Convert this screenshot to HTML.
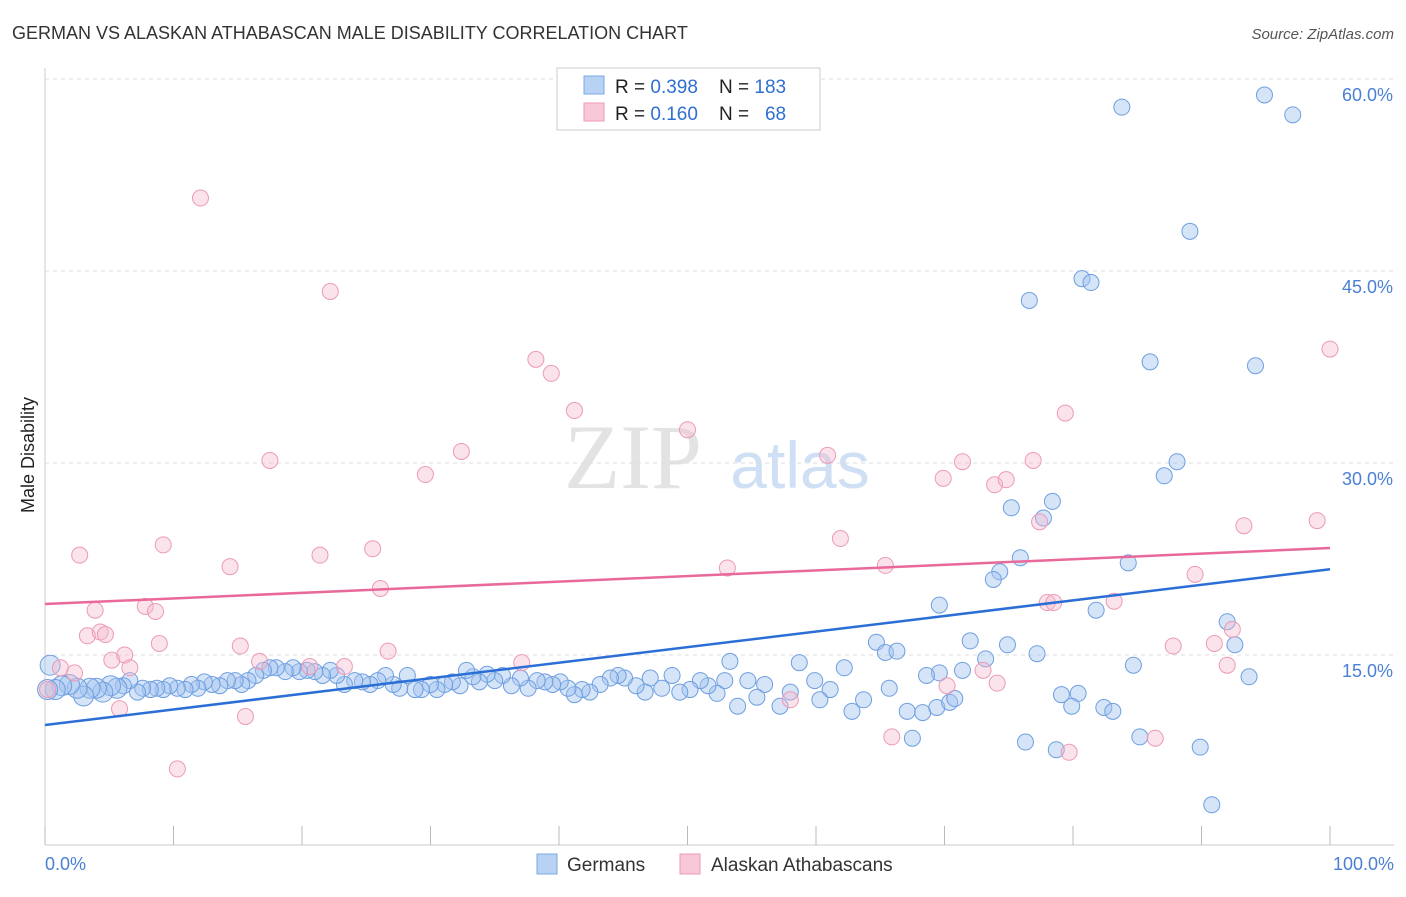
<!DOCTYPE html>
<html><head><meta charset="utf-8"><style>
body{margin:0;background:#fff;font-family:"Liberation Sans",sans-serif;}
</style></head><body>
<svg width="1406" height="892" xmlns="http://www.w3.org/2000/svg" id="chart">
<text x="12" y="39" font-size="18" fill="#333">GERMAN VS ALASKAN ATHABASCAN MALE DISABILITY CORRELATION CHART</text>
<text x="1394" y="39" font-size="15" fill="#555" font-style="italic" text-anchor="end">Source: ZipAtlas.com</text>
<text x="633" y="488" font-size="92" fill="#e3e3e3" font-family="Liberation Serif,serif" text-anchor="middle">ZIP</text>
<text x="800" y="488" font-size="66" fill="#cfe0f5" text-anchor="middle">atlas</text>
<text transform="translate(34,455) rotate(-90)" font-size="18" fill="#222" text-anchor="middle">Male Disability</text>
<g id="grid"></g><g id="pts"></g><g id="lines"></g>
<rect x="557" y="68" width="263" height="62" fill="#fff" stroke="#ccc"/>
<rect x="584" y="76" width="20" height="18" fill="#b8d2f4" stroke="#7aa8e6"/>
<rect x="584" y="103" width="20" height="18" fill="#f9c8d8" stroke="#ee9ab6"/>
<text x="615" y="93" font-size="19" fill="#222">R = <tspan fill="#2f6fd0">0.398</tspan>&#160;&#160;&#160;&#160;N = <tspan fill="#2f6fd0">183</tspan></text>
<text x="615" y="120" font-size="19" fill="#222">R = <tspan fill="#2f6fd0">0.160</tspan>&#160;&#160;&#160;&#160;N = &#160;&#160;<tspan fill="#2f6fd0">68</tspan></text>
<rect x="537" y="854" width="20" height="20" fill="#b8d2f4" stroke="#7aa8e6"/>
<text x="567" y="871" font-size="19" fill="#333">Germans</text>
<rect x="680" y="854" width="20" height="20" fill="#f9c8d8" stroke="#ee9ab6"/>
<text x="711" y="871" font-size="19" fill="#333">Alaskan Athabascans</text>
<text x="45" y="870" font-size="18" fill="#4a7fd4">0.0%</text>
<text x="1394" y="870" font-size="18" fill="#4a7fd4" text-anchor="end">100.0%</text>
</svg>
<script>
const yTicks=[15,30,45,60];
const yTickLabels=["15.0%","30.0%","45.0%","60.0%"];
const xTicks=[0,10,20,30,40,50,60,70,80,90,100];
const germans=[[83.8,57.8],[94.9,58.75],[97.1,57.2],[89.1,48.1],[80.7,44.4],[81.4,44.1],[76.6,42.7],[86.0,37.9],[94.2,37.6],[88.1,30.1],[87.1,29.0],[78.4,27.0],[77.7,25.7],[75.2,26.5],[75.9,22.6],[74.3,21.5],[73.8,20.9],[84.3,22.2],[69.6,18.9],[81.8,18.5],[92.0,17.6],[92.6,15.8],[72.0,16.1],[74.9,15.8],[77.2,15.1],[73.2,14.7],[64.7,16.0],[65.4,15.2],[66.3,15.3],[84.7,14.2],[93.7,13.3],[71.4,13.8],[69.6,13.6],[68.6,13.4],[79.1,11.9],[80.4,12.0],[79.9,11.0],[82.4,10.9],[83.1,10.6],[85.2,8.6],[76.3,8.2],[78.7,7.6],[89.9,7.8],[90.8,3.3],[67.5,8.5],[67.1,10.6],[68.3,10.5],[69.4,10.9],[70.4,11.3],[70.8,11.6],[62.8,10.6],[63.7,11.5],[65.7,12.4],[62.2,14.0],[61.1,12.3],[60.3,11.5],[59.9,13.0],[58.7,14.4],[58.0,12.1],[57.2,11.0],[56.0,12.7],[55.4,11.7],[54.7,13.0],[53.9,11.0],[53.3,14.5],[52.9,13.0],[52.3,12.0],[51.6,12.6],[51.0,13.0],[50.2,12.3],[49.4,12.1],[48.8,13.4],[48.0,12.4],[47.1,13.2],[46.7,12.1],[46.0,12.6],[45.1,13.2],[44.6,13.4],[44.0,13.2],[43.2,12.7],[42.4,12.1],[41.8,12.3],[41.2,11.9],[40.7,12.4],[40.1,12.9],[39.5,12.7],[38.9,12.9],[38.3,13.0],[37.6,12.4],[37.0,13.2],[36.3,12.6],[35.6,13.4],[35.0,13.0],[34.4,13.5],[33.8,12.9],[33.3,13.3],[32.8,13.8],[32.3,12.6],[31.7,12.9],[31.1,12.7],[30.5,12.3],[30.0,12.7],[29.3,12.3],[28.8,12.3],[28.2,13.4],[27.6,12.4],[27.1,12.7],[26.5,13.4],[25.9,13.0],[25.3,12.7],[24.7,12.9],[24.1,13.0],[23.3,12.7],[22.7,13.4],[22.2,13.8],[21.6,13.4],[21.0,13.7],[20.4,13.8],[19.8,13.7],[19.3,14.0],[18.7,13.7],[18.0,14.0],[17.5,14.0],[17.0,13.8],[16.4,13.4],[15.8,13.0],[15.3,12.7],[14.8,13.0],[14.2,13.0],[13.6,12.6],[13.0,12.7],[12.4,12.9],[11.9,12.4],[11.4,12.7],[10.9,12.3],[10.3,12.4],[9.7,12.6],[9.2,12.3],[8.7,12.4],[8.2,12.3],[7.6,12.4],[7.2,12.1],[6.6,13.0],[6.1,12.6],[5.6,12.4],[5.1,12.6],[4.5,12.1],[4.0,12.4],[3.5,12.4],[3.0,11.8],[2.5,12.4],[1.9,12.7],[1.3,12.6],[0.8,12.3],[0.4,14.2],[0.2,12.3]];
const athabascans=[[0.2,12.3],[1.2,14.0],[2.3,13.6],[2.7,22.8],[3.9,18.5],[3.3,16.5],[4.3,16.8],[4.7,16.6],[5.2,14.6],[5.8,10.8],[6.2,15.0],[6.6,14.0],[7.8,18.8],[8.6,18.4],[8.9,15.9],[9.2,23.6],[10.3,6.1],[12.1,50.7],[14.4,21.9],[15.2,15.7],[15.6,10.2],[16.7,14.5],[17.5,30.2],[20.6,14.1],[21.4,22.8],[22.2,43.4],[23.3,14.1],[25.5,23.3],[26.1,20.2],[26.7,15.3],[29.6,29.1],[32.4,30.9],[37.1,14.4],[38.2,38.1],[39.4,37.0],[41.2,34.1],[50.0,32.6],[53.1,21.8],[58.0,11.5],[60.9,30.6],[61.9,24.1],[65.4,22.0],[65.9,8.6],[69.9,28.8],[70.2,12.6],[71.4,30.1],[73.0,13.8],[73.9,28.3],[74.1,12.8],[74.8,28.7],[76.9,30.2],[77.4,25.4],[78.0,19.1],[78.5,19.1],[79.4,33.9],[79.7,7.4],[83.2,19.2],[86.4,8.5],[87.8,15.7],[89.5,21.3],[91.0,15.9],[92.0,14.2],[92.4,17.0],[93.3,25.1],[99.0,25.5],[100.0,38.9]];
const germanTrend=[9.53,21.7];
const athabascanTrend=[18.98,23.36];

const NS="http://www.w3.org/2000/svg";
const X=v=>45+v*12.85;
const Y=v=>847-v*12.8;
function mk(tag,attrs,parent){const e=document.createElementNS(NS,tag);for(const k in attrs)e.setAttribute(k,attrs[k]);parent.appendChild(e);return e;}
const grid=document.getElementById('grid'),pts=document.getElementById('pts'),lines=document.getElementById('lines');
mk('line',{x1:45,y1:68,x2:45,y2:845,stroke:'#ccc'},grid);
mk('line',{x1:45,y1:845,x2:1394,y2:845,stroke:'#ccc'},grid);
yTicks.forEach((t,i)=>{
  const l=mk('line',{x1:45,y1:Y(t),x2:1394,y2:Y(t),stroke:'#ddd','stroke-dasharray':'4,4'},grid);
  
  
  const tx=mk('text',{x:1393,y:Y(t)+22,'font-size':18,fill:'#4a7fd4','text-anchor':'end'},grid);
  tx.textContent=yTickLabels[i];
  
  
});
xTicks.forEach(t=>{
  const l=mk('line',{x1:X(t),y1:826,x2:X(t),y2:845,stroke:'#bbb'},grid);
  
  
});
germans.forEach((d,i)=>{
  const c=mk('circle',{cx:X(d[0]),cy:Y(d[1]),r:i>=germans.length-12?10:8,fill:'rgba(163,196,240,0.45)',stroke:'#6e9fe0','stroke-width':1},pts);
  
  
});
athabascans.forEach(d=>{
  const c=mk('circle',{cx:X(d[0]),cy:Y(d[1]),r:8,fill:'rgba(246,184,204,0.4)',stroke:'#ec9ab6','stroke-width':1},pts);
  
  
});
const l1=mk('line',{x1:X(0),y1:Y(germanTrend[0]),x2:X(100),y2:Y(germanTrend[1]),stroke:'#2b6fd6','stroke-width':2.5},lines);


const l2=mk('line',{x1:X(0),y1:Y(athabascanTrend[0]),x2:X(100),y2:Y(athabascanTrend[1]),stroke:'#e8699a','stroke-width':2.5},lines);


</script>
</body></html>
